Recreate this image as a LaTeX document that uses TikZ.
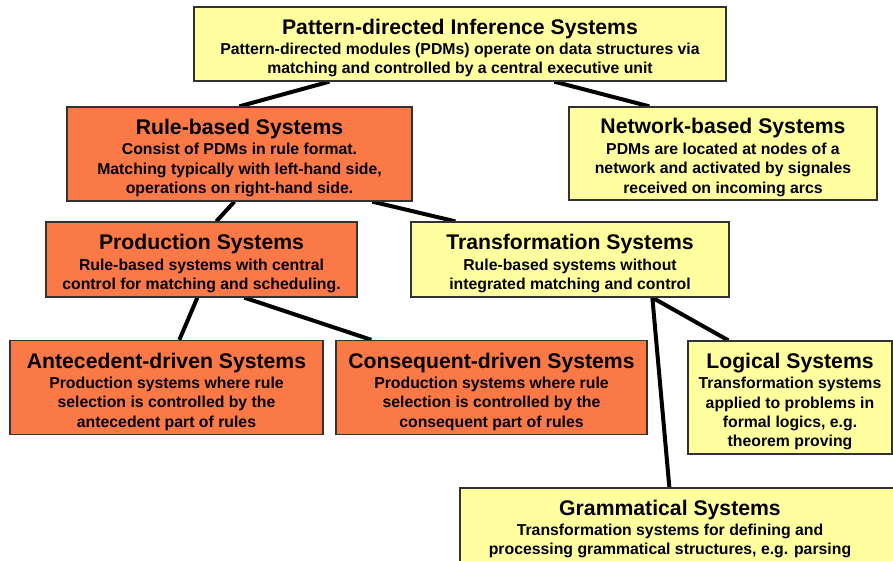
\documentclass[tikz,border=0pt]{standalone}
\usepackage{fontspec}
\setmainfont{Liberation Sans}
\usetikzlibrary{backgrounds}
\definecolor{boxyellow}{RGB}{255,255,160}
\definecolor{boxorange}{RGB}{250,121,70}
\definecolor{boxline}{RGB}{50,50,50}
\newcommand{\ttl}{\fontsize{21.2}{23}\selectfont}
\tikzset{
  box/.style={draw=boxline, line width=1.3pt, inner sep=0pt},
  ybox/.style={box, fill=boxyellow},
  obox/.style={box, fill=boxorange},
  txt/.style={inner sep=0pt, align=center, font=\bfseries\fontsize{15.8}{19.3}\selectfont},
  conn/.style={line width=4pt, black},
}
% #1 style, #2 name, #3 centre, #4 width, #5 height, #6 text
\newcommand{\mkbox}[6]{%
  \node[#1, minimum width=#4, minimum height=#5] (#2) at #3 {};
  \node[txt, yshift=-4pt] (#2-t) at (#2.center) {#6};}
\begin{document}
\begin{tikzpicture}[x=1pt,y=-1pt]
\useasboundingbox (0,0) rectangle (893,560);
\clip (0,0) rectangle (893,560);
\mkbox{ybox}{top}{(460,44)}{532pt}{74pt}
  {{\ttl Pattern-directed Inference Systems}\\[1.2pt]Pattern-directed modules (PDMs) operate on data structures via\\matching and controlled by a central executive unit}
\mkbox{obox}{rule}{(239.5,154)}{345pt}{94pt}
  {{\ttl Rule-based Systems}\\[1.2pt]Consist of PDMs in rule format.\\Matching typically with left-hand side,\\operations on right-hand side.}
\mkbox{ybox}{net}{(723,153.5)}{308pt}{93pt}
  {{\ttl Network-based Systems}\\[1.2pt]PDMs are located at nodes of a\\network and activated by signales\\received on incoming arcs}
\mkbox{obox}{prod}{(201.5,259.5)}{311pt}{75pt}
  {{\ttl Production Systems}\\[1.2pt]Rule-based systems with central\\control for matching and scheduling.}
\mkbox{ybox}{trans}{(570,259.5)}{318pt}{75pt}
  {{\ttl Transformation Systems}\\[1.2pt]Rule-based systems without\\integrated matching and control}
\mkbox{obox}{ante}{(166.5,387.5)}{313pt}{94pt}
  {{\ttl Antecedent-driven Systems}\\[1.2pt]Production systems where rule\\selection is controlled by the\\antecedent part of rules}
\mkbox{obox}{cons}{(491.5,387.5)}{311pt}{94pt}
  {{\ttl Consequent-driven Systems}\\[1.2pt]Production systems where rule\\selection is controlled by the\\consequent part of rules}
\mkbox{ybox}{logic}{(790,397.5)}{204pt}{113pt}
  {{\ttl Logical Systems}\\[1.2pt]Transformation systems\\applied to problems in\\formal logics, e.g.\\theorem proving}
\node[ybox, minimum width=450pt, minimum height=90pt] (gram) at (685,533) {};
\node[txt] (gram-t) at (670,529)
  {{\ttl Grammatical Systems}\\[1.2pt]Transformation systems for defining and\\processing grammatical structures, e.g. parsing};
\begin{scope}[on background layer]
\draw[conn] ([xshift=136pt]top.south west) -- ([xshift=173pt]rule.north west);
\draw[conn] ([xshift=361pt]top.south west) -- ([xshift=81pt]net.north west);
\draw[conn] ([xshift=168pt]rule.south west) -- ([xshift=171pt]prod.north west);
\draw[conn] ([xshift=306pt]rule.south west) -- ([xshift=45pt]trans.north west);
\draw[conn] ([xshift=152pt]prod.south west) -- ([xshift=170pt]ante.north west);
\draw[conn] ([xshift=199pt]prod.south west) -- ([xshift=36pt]cons.north west);
\draw[conn] ([xshift=242pt]trans.south west) -- ([xshift=41pt]logic.north west);
\draw[conn] ([xshift=242pt]trans.south west) -- ([xshift=210pt]gram.north west);
\end{scope}
\end{tikzpicture}
\end{document}
